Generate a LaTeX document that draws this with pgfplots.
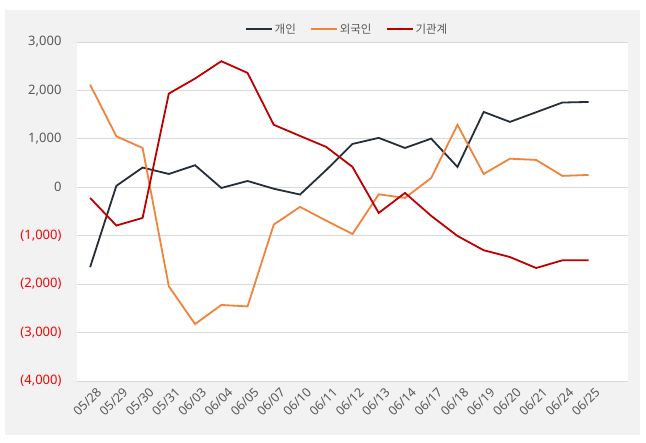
\documentclass[border=0pt]{standalone}
\usepackage{pgfplots}
\pgfplotsset{compat=1.18}
\usepackage{fontspec}
\setmainfont{Noto Sans}
\newfontfamily\kr{Noto Sans CJK KR}
\definecolor{bgg}{HTML}{F2F2F2}
\definecolor{gridc}{HTML}{D9D9D9}
\definecolor{tickc}{HTML}{595959}
\definecolor{negc}{HTML}{FF0000}
\definecolor{c1}{HTML}{252E3B}
\definecolor{c2}{HTML}{F0843A}
\definecolor{c3}{HTML}{C00000}
\begin{document}
\begin{tikzpicture}
\path[use as bounding box] (-77pt,-62pt) rectangle (569pt,381pt);
\fill[bgg] (-72pt,-54pt) rectangle (563pt,371pt);
\begin{axis}[
  scale only axis,
  width=551pt, height=339pt,
  xmin=-0.5, xmax=20.5,
  ymin=-4000, ymax=3000,
  axis background/.style={fill=white},
  axis line style={draw=none},
  major tick length=0pt,
  ymajorgrids, grid style={gridc, line width=0.8pt},
  ytick={-4000,-3000,-2000,-1000,0,1000,2000,3000},
  yticklabels={\textcolor{negc}{(4,000)},\textcolor{negc}{(3,000)},\textcolor{negc}{(2,000)},\textcolor{negc}{(1,000)},0,{1,000},{2,000},{3,000}},
  yticklabel style={font=\fontsize{13}{15}\selectfont, text=tickc, xshift=-12pt},
  xtick={0,...,19},
  xticklabels={05/28,05/29,05/30,05/31,06/03,06/04,06/05,06/07,06/10,06/11,06/12,06/13,06/14,06/17,06/18,06/19,06/20,06/21,06/24,06/25},
  xticklabel style={font=\fontsize{12.5}{14}\selectfont, text=tickc, rotate=45, anchor=north east, inner sep=1pt, xshift=1pt, yshift=-7pt},
  legend style={at={(rel axis cs:0.49,1.038)}, anchor=center, draw=none, fill=none,
    legend columns=3, font=\kr\fontsize{11.5}{13}\selectfont, text=tickc,
    /tikz/every even column/.append style={column sep=12pt}, inner sep=0pt},
  legend image code/.code={\draw[#1, line width=2pt] (0pt,0pt) -- (26pt,0pt);},
  clip=false,
]
\addplot[c1, line width=1.8pt] coordinates {
(0,-1650) (1,30) (2,407) (3,275) (4,455) (5,-14) (6,130) (7,-30) (8,-150) (9,357)
(10,895) (11,1020) (12,812) (13,1005) (14,420) (15,1556) (16,1350) (17,1550) (18,1750) (19,1762)};
\addlegendentry{개인}
\addplot[c2, line width=1.8pt] coordinates {
(0,2120) (1,1053) (2,812) (3,-2045) (4,-2825) (5,-2430) (6,-2460) (7,-770) (8,-405) (9,-690)
(10,-965) (11,-145) (12,-220) (13,192) (14,1290) (15,275) (16,590) (17,565) (18,235) (19,255)};
\addlegendentry{외국인}
\addplot[c3, line width=1.8pt] coordinates {
(0,-220) (1,-790) (2,-633) (3,1935) (4,2245) (5,2603) (6,2362) (7,1290) (8,1060) (9,833)
(10,420) (11,-530) (12,-117) (13,-590) (14,-1005) (15,-1300) (16,-1440) (17,-1667) (18,-1508) (19,-1508)};
\addlegendentry{기관계}
\end{axis}
\end{tikzpicture}
\end{document}
